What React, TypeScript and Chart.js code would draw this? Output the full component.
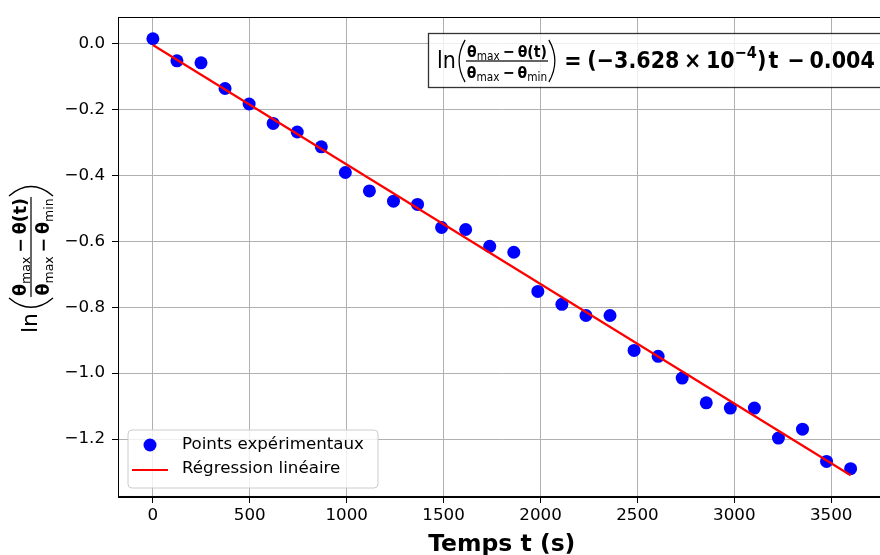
import React, { useEffect, useRef } from "react";
import { Chart, registerables } from "chart.js";

Chart.register(...registerables);

// ---------- data ----------
const timeValues = [
  0, 124.1, 248.3, 372.4, 496.6, 620.7, 744.8, 869.0, 993.1, 1117.2,
  1241.4, 1365.5, 1489.7, 1613.8, 1737.9, 1862.1, 1986.2, 2110.3, 2234.5, 2358.6,
  2482.8, 2606.9, 2731.0, 2855.2, 2979.3, 3103.4, 3227.6, 3351.7, 3475.9, 3600,
];
const lnValues = [
  0.015, -0.052, -0.058, -0.136, -0.183, -0.242, -0.268, -0.313, -0.391, -0.447,
  -0.478, -0.488, -0.558, -0.564, -0.615, -0.633, -0.752, -0.791, -0.825, -0.825,
  -0.931, -0.949, -1.015, -1.09, -1.106, -1.106, -1.197, -1.17, -1.268, -1.29,
];
const fitTimes = [0, 3600];
const fitValues = [-0.004, -1.3101];
const xTickValues = [0, 500, 1000, 1500, 2000, 2500, 3000, 3500];
const yTickValues = [0, -0.2, -0.4, -0.6, -0.8, -1.0, -1.2];
const legendLabels = ["Points expérimentaux", "Régression linéaire"];
const xTitle = "Temps t (s)";
const slopeMantissa = "−3.628";
const slopeExponent = "−4";
const interceptText = "0.004";

const FONT = "'DejaVu Sans', sans-serif";

type Part = { t: string; sub?: boolean; op?: boolean };
const numParts: Part[] = [{ t: "θ" }, { t: "max", sub: true }, { t: "−", op: true }, { t: "θ(t)" }];
const denParts: Part[] = [
  { t: "θ" }, { t: "max", sub: true }, { t: "−", op: true }, { t: "θ" }, { t: "min", sub: true },
];

function rowWidth(ctx: CanvasRenderingContext2D, parts: Part[], f: number, sf: number) {
  let w = 0;
  for (const p of parts) {
    if (p.sub) {
      ctx.font = `${sf}px ${FONT}`;
      w += ctx.measureText(p.t).width;
    } else {
      ctx.font = `bold ${f}px ${FONT}`;
      w += ctx.measureText(p.t).width + (p.op ? 0.44 * f : 0);
    }
  }
  return w;
}

function drawRow(ctx: CanvasRenderingContext2D, parts: Part[], x: number, y: number, f: number, sf: number) {
  for (const p of parts) {
    if (p.sub) {
      ctx.font = `${sf}px ${FONT}`;
      ctx.fillText(p.t, x, y + 0.2 * f);
      x += ctx.measureText(p.t).width;
    } else {
      ctx.font = `bold ${f}px ${FONT}`;
      if (p.op) x += 0.22 * f;
      ctx.fillText(p.t, x, y);
      x += ctx.measureText(p.t).width + (p.op ? 0.22 * f : 0);
    }
  }
}

function drawParen(ctx: CanvasRenderingContext2D, x: number, yc: number, h: number, w: number, left: boolean) {
  ctx.beginPath();
  if (left) {
    ctx.moveTo(x + w, yc - h / 2);
    ctx.quadraticCurveTo(x - w * 0.7, yc, x + w, yc + h / 2);
  } else {
    ctx.moveTo(x, yc - h / 2);
    ctx.quadraticCurveTo(x + w * 1.7, yc, x, yc + h / 2);
  }
  ctx.lineWidth = 1.4;
  ctx.strokeStyle = "#000";
  ctx.stroke();
}

function drawLnFrac(
  ctx: CanvasRenderingContext2D, x0: number, yc: number,
  s: number, f: number, sf: number, ph: number, pw: number, lnGap: number
) {
  ctx.fillStyle = "#000";
  ctx.textAlign = "left";
  ctx.textBaseline = "alphabetic";
  ctx.font = `${s}px ${FONT}`;
  ctx.fillText("ln", x0, yc + 0.28 * s);
  let x = x0 + ctx.measureText("ln").width + lnGap;
  drawParen(ctx, x, yc, ph, pw, true);
  x += pw + 1;
  const wn = rowWidth(ctx, numParts, f, sf);
  const wd = rowWidth(ctx, denParts, f, sf);
  const W = Math.max(wn, wd) + 2;
  drawRow(ctx, numParts, x + (W - wn) / 2, yc - 0.28 * f, f, sf);
  drawRow(ctx, denParts, x + (W - wd) / 2, yc + 1.04 * f, f, sf);
  ctx.fillRect(x, yc - 0.6, W, 1.2);
  x += W + 1;
  drawParen(ctx, x, yc, ph, pw, false);
  return x + pw;
}

const decorPlugin = {
  id: "decor",
  afterDraw(chart: any) {
    const ctx: CanvasRenderingContext2D = chart.ctx;
    const a = chart.chartArea;
    ctx.save();
    // frame
    ctx.strokeStyle = "#000";
    ctx.lineWidth = 1;
    ctx.strokeRect(Math.round(a.left) + 0.5, Math.round(a.top) + 0.5, a.right - a.left - 1, a.bottom - a.top - 1);

    // annotation box
    ctx.fillStyle = "rgba(255,255,255,0.8)";
    ctx.fillRect(428, 33, 470, 54);
    ctx.strokeStyle = "rgba(0,0,0,0.8)";
    ctx.lineWidth = 1.3;
    ctx.strokeRect(428.5, 33.5, 470, 54);

    ctx.save();
    ctx.translate(437, 0);
    ctx.scale(0.88, 1);
    let x = drawLnFrac(ctx, 0, 61, 23.5, 16, 12, 42, 8, 2.5);
    const s = 23.5;
    ctx.fillStyle = "#000";
    x += 0.4 * s;
    const put = (t: string, gapAfter: number, size = s, dy = 0) => {
      ctx.font = `bold ${size}px ${FONT}`;
      ctx.fillText(t, x, 61 + 0.3 * s + dy);
      x += ctx.measureText(t).width + gapAfter;
    };
    put("=", 0.28 * s);
    put("(" + slopeMantissa, 0.22 * s);
    put("×", 0.22 * s);
    put("10", 0);
    put(slopeExponent, 0, 0.7 * s, -0.42 * s);
    put(")", 0.1 * s);
    put("t", 0.45 * s);
    put("−", 0.22 * s);
    put(interceptText, 0);
    ctx.restore();

    // legend
    ctx.beginPath();
    const lx = 128, ly = 430, lw = 250, lh = 58, r = 4;
    ctx.moveTo(lx + r, ly);
    ctx.arcTo(lx + lw, ly, lx + lw, ly + lh, r);
    ctx.arcTo(lx + lw, ly + lh, lx, ly + lh, r);
    ctx.arcTo(lx, ly + lh, lx, ly, r);
    ctx.arcTo(lx, ly, lx + lw, ly, r);
    ctx.closePath();
    ctx.fillStyle = "rgba(255,255,255,0.8)";
    ctx.fill();
    ctx.strokeStyle = "#cccccc";
    ctx.lineWidth = 1;
    ctx.stroke();
    ctx.fillStyle = "#0000ff";
    ctx.beginPath();
    ctx.arc(150, 445, 6.5, 0, Math.PI * 2);
    ctx.fill();
    ctx.strokeStyle = "#ff0000";
    ctx.lineWidth = 2.2;
    ctx.beginPath();
    ctx.moveTo(132, 470);
    ctx.lineTo(168, 470);
    ctx.stroke();
    ctx.fillStyle = "#000";
    ctx.font = `16.7px ${FONT}`;
    ctx.textBaseline = "middle";
    ctx.fillText(legendLabels[0], 182, 445);
    ctx.fillText(legendLabels[1], 182, 469);

    // x title
    ctx.textAlign = "center";
    ctx.textBaseline = "alphabetic";
    ctx.font = `bold 23.5px ${FONT}`;
    ctx.fillText(xTitle, (a.left + a.right) / 2, 551);

    // y title (rotated)
    ctx.translate(31, 333);
    ctx.rotate(-Math.PI / 2);
    drawLnFrac(ctx, 0, 0, 22, 17.5, 12.5, 44, 11, 4);
    ctx.restore();
  },
};

export default function App() {
  const ref = useRef<HTMLCanvasElement>(null);
  useEffect(() => {
    const canvas = ref.current!;
    const chart = new Chart(canvas, {
      type: "scatter",
      data: {
        datasets: [
          {
            type: "line",
            label: legendLabels[1],
            data: fitTimes.map((t, i) => ({ x: t, y: fitValues[i] })),
            borderColor: "#ff0000",
            borderWidth: 2.2,
            pointRadius: 0,
            fill: false,
            tension: 0,
            order: 0,
          } as any,
          {
            type: "scatter",
            label: legendLabels[0],
            data: timeValues.map((t, i) => ({ x: t, y: lnValues[i] })),
            backgroundColor: "#0000ff",
            borderColor: "#0000ff",
            borderWidth: 0,
            pointRadius: 6.5,
            pointHoverRadius: 6.5,
            order: 1,
          },
        ],
      },
      options: {
        responsive: false,
        animation: false,
        devicePixelRatio: 1,
        events: [],
        layout: { padding: { top: 15, left: 0, right: 0, bottom: 0 } },
        plugins: { legend: { display: false }, tooltip: { enabled: false } },
        scales: {
          x: {
            type: "linear",
            min: -180,
            max: 3780,
            afterBuildTicks: (sc: any) => {
              sc.ticks = xTickValues.map((v) => ({ value: v }));
            },
            afterFit: (sc: any) => {
              sc.height = 58;
            },
            grid: { color: "#b0b0b0", lineWidth: 1, tickColor: "#000", tickLength: 6, drawTicks: true },
            border: { display: true, color: "#000", width: 1 },
            ticks: {
              font: { family: FONT, size: 16.7 },
              color: "#000",
              padding: 3,
              maxRotation: 0,
              autoSkip: false,
              callback: (v: any) => String(v),
            },
          },
          y: {
            type: "linear",
            min: -1.376,
            max: 0.081,
            afterBuildTicks: (sc: any) => {
              sc.ticks = yTickValues.map((v) => ({ value: v }));
            },
            afterFit: (sc: any) => {
              sc.width = 118;
            },
            grid: { color: "#b0b0b0", lineWidth: 1, tickColor: "#000", tickLength: 6, drawTicks: true },
            border: { display: true, color: "#000", width: 1 },
            ticks: {
              font: { family: FONT, size: 16.7 },
              color: "#000",
              padding: 7,
              autoSkip: false,
              callback: (v: any) => {
                const n = Number(v);
                if (Math.abs(n) < 1e-9) return "0.0";
                return (n < 0 ? "−" : "") + Math.abs(n).toFixed(1);
              },
            },
          },
        },
      },
      plugins: [decorPlugin],
    });
    return () => chart.destroy();
  }, []);
  return (
    <div
      style={{
        position: "absolute",
        left: 0,
        top: 0,
        width: 880,
        height: 555,
        overflow: "hidden",
        background: "#fff",
      }}
    >
      <canvas ref={ref} width={892} height={555} style={{ display: "block" }} />
    </div>
  );
}
